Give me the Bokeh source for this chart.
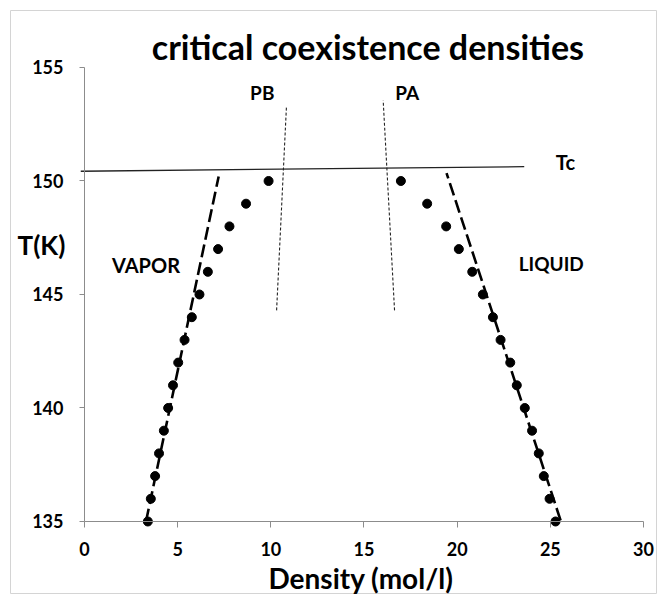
from bokeh.plotting import figure
from bokeh.models import Range1d, Label, FixedTicker
from bokeh.embed import file_html
from bokeh.resources import INLINE

# ---- data ----
temperature = [135, 136, 137, 138, 139, 140, 141, 142, 143, 144, 145, 146, 147, 148, 149, 150]
vapor_density = [3.40, 3.56, 3.79, 4.00, 4.26, 4.49, 4.75, 5.03, 5.37, 5.76, 6.17, 6.62, 7.17, 7.78, 8.67, 9.88]
liquid_density = [25.28, 24.96, 24.65, 24.38, 24.02, 23.63, 23.20, 22.85, 22.33, 21.92, 21.38, 20.81, 20.09, 19.41, 18.39, 16.98]

vapor_fit_density = [3.30, 7.20]
vapor_fit_temp = [135.0, 150.2]
liquid_fit_density = [25.55, 19.43]
liquid_fit_temp = [135.05, 150.35]

tc_density = [-0.2, 23.6]
tc_temp = [150.43, 150.63]

pb_density = [10.31, 10.84]
pb_temp = [144.3, 153.3]
pa_density = [16.64, 16.03]
pa_temp = [144.3, 153.55]

x_ticks = [0, 5, 10, 15, 20, 25, 30]
y_ticks = [135, 140, 145, 150, 155]

FONT = "Lato"

p = figure(width=657, height=594, output_backend="svg", toolbar_location=None,
           x_range=Range1d(-3.971, 30.752), y_range=Range1d(131.784, 157.511),
           min_border_left=10, min_border_right=0, min_border_top=10, min_border_bottom=0)
p.title.visible = False
p.grid.visible = False
p.outline_line_color = "#d4d4d4"
p.outline_line_width = 1
p.background_fill_color = "white"
p.border_fill_color = "white"

for ax in (p.xaxis[0], p.yaxis[0]):
    ax.axis_line_color = "#8c8c8c"
    ax.major_tick_line_color = "#8c8c8c"
    ax.minor_tick_line_color = None
    ax.major_tick_in = 0
    ax.major_label_text_font = FONT
    ax.major_label_text_font_style = "bold"
    ax.major_label_text_font_size = "18px"
    ax.major_label_text_color = "black"

p.xaxis.ticker = FixedTicker(ticks=x_ticks)
p.yaxis.ticker = FixedTicker(ticks=y_ticks)
p.xaxis.bounds = (0, 30)
p.yaxis.bounds = (135, 155)
p.xaxis.fixed_location = 135
p.yaxis.fixed_location = 0
p.xaxis.major_tick_out = 6
p.yaxis.major_tick_out = 5
p.xaxis.major_label_standoff = 15
p.yaxis.major_label_standoff = 16

# reference lines
p.line(tc_density, tc_temp, line_color="#222222", line_width=1.3)
p.line(pb_density, pb_temp, line_color="#222222", line_width=1.1, line_dash="3 2")
p.line(pa_density, pa_temp, line_color="#222222", line_width=1.1, line_dash="3 2")

# fits
p.line(vapor_fit_density, vapor_fit_temp, line_color="black", line_width=2.6, line_dash="13 5")
p.line(liquid_fit_density, liquid_fit_temp, line_color="black", line_width=2.6, line_dash="13 5")

# data points
p.scatter(vapor_density, temperature, size=9, color="black")
p.scatter(liquid_density, temperature, size=9, color="black")

def lbl(x, y, text, size, align="center"):
    p.add_layout(Label(x=x, y=y, text=text, text_font=FONT, text_font_style="bold",
                       text_font_size=size, text_align=align, text_baseline="middle",
                       text_color="black"))

lbl(15.21, 155.925, "critical coexistence densities", "34px")
lbl(9.54, 153.88, "PB", "19px")
lbl(17.32, 153.9, "PA", "19px")
lbl(25.81, 150.83, "Tc", "20px")
lbl(3.30, 146.28, "VAPOR", "20px")
lbl(25.05, 146.37, "LIQUID", "19px")
lbl(-2.31, 147.20, "T(K)", "26px")
lbl(14.84, 132.53, "Density (mol/l)", "28px")

open("out.html", "w").write(file_html(p, INLINE))
